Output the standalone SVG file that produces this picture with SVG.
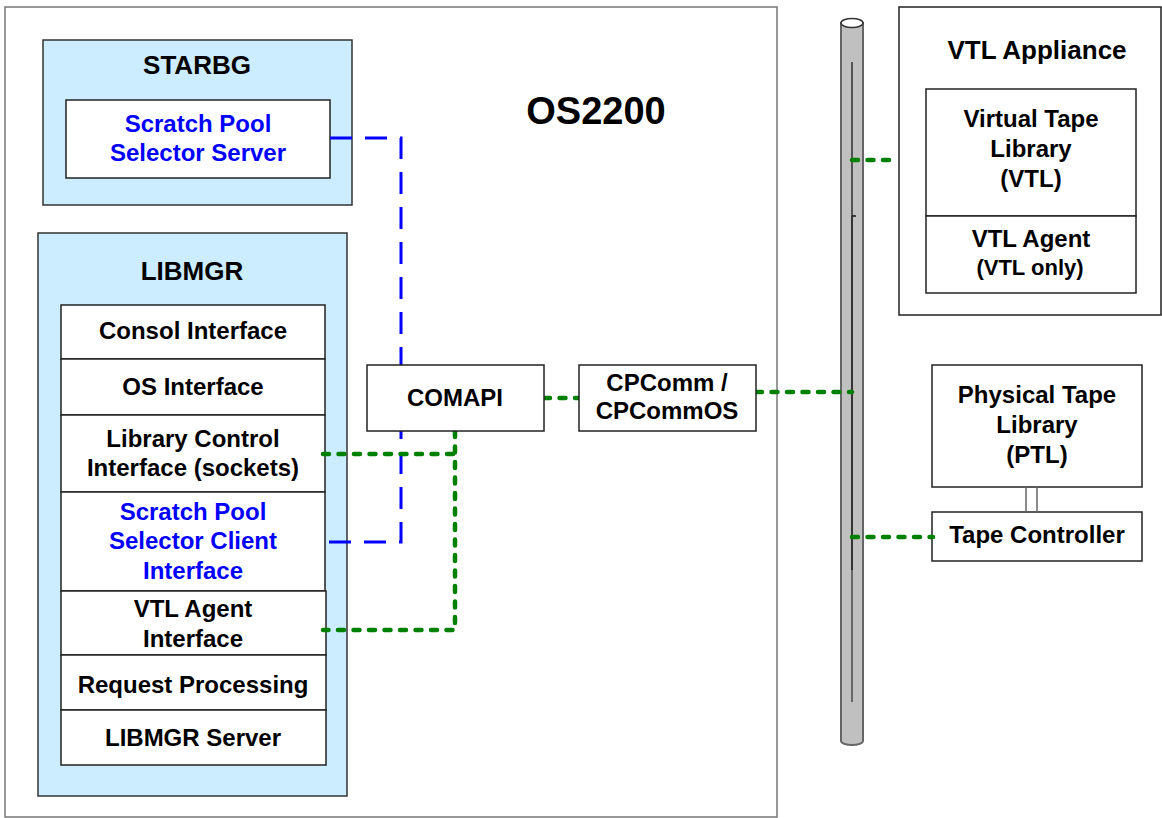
<svg xmlns="http://www.w3.org/2000/svg" width="1162" height="818" viewBox="0 0 1162 818">
<style>
text{font-family:"Liberation Sans",Arial,sans-serif;font-weight:bold;text-anchor:middle;fill:#000}
.b{font-size:24px}
.t{font-size:26px}
.s{font-size:22px}
.blue{fill:#0000FF}
.box{fill:#fff;stroke:#222;stroke-width:1.5}
.grp{fill:#CCECFF;stroke:#333;stroke-width:1.5}
.green{fill:none;stroke:#008000;stroke-width:4.5;stroke-linecap:round;stroke-dasharray:6 9.5}
.bluel{fill:none;stroke:#0000FF;stroke-width:3;stroke-dasharray:22 13}
</style>
<rect width="1162" height="818" fill="#fff"/>
<g id="os2200">
<rect x="5" y="7" width="772" height="810" fill="#fff" stroke="#777" stroke-width="1.5"/>
<text x="596" y="124" style="font-size:38px">OS2200</text>
</g>
<g id="starbg">
<rect class="grp" x="43" y="40" width="309" height="165"/>
<text class="t" x="197" y="74">STARBG</text>
</g>
<g id="sps-server">
<rect class="box" x="66" y="100" width="264" height="78"/>
<text class="b blue" x="198" y="132">Scratch Pool</text>
<text class="b blue" x="198" y="161">Selector Server</text>
</g>
<g id="libmgr">
<rect class="grp" x="38" y="233" width="309" height="563"/>
<text class="t" x="192" y="280">LIBMGR</text>
</g>
<g id="consol">
<rect class="box" x="61" y="305" width="264" height="54"/>
<text class="b" x="193" y="339">Consol Interface</text>
</g>
<g id="os-if">
<rect class="box" x="61" y="359" width="264" height="56"/>
<text class="b" x="193" y="395">OS Interface</text>
</g>
<g id="libctl">
<rect class="box" x="61" y="415" width="264" height="77"/>
<text class="b" x="193" y="447">Library Control</text>
<text class="b" x="193" y="476">Interface (sockets)</text>
</g>
<g id="sps-client">
<rect class="box" x="61" y="492" width="264" height="99"/>
<text class="b blue" x="193" y="520">Scratch Pool</text>
<text class="b blue" x="193" y="549">Selector Client</text>
<text class="b blue" x="193" y="579">Interface</text>
</g>
<g id="vtlagent-if">
<rect class="box" x="61" y="591" width="265" height="64"/>
<text class="b" x="193" y="617">VTL Agent</text>
<text class="b" x="193" y="647">Interface</text>
</g>
<g id="reqproc">
<rect class="box" x="61" y="655" width="265" height="55"/>
<text class="b" x="193" y="693">Request Processing</text>
</g>
<g id="libmgr-server">
<rect class="box" x="61" y="710" width="265" height="55"/>
<text class="b" x="193" y="746">LIBMGR Server</text>
</g>
<g id="network">
<path d="M841,23 V741 A11,4 0 0 0 863,741 V23 Z" fill="#C0C0C0" stroke="#666" stroke-width="2"/>
<ellipse cx="852" cy="23" rx="11" ry="4.5" fill="#fff" stroke="#333" stroke-width="1.5"/>
<path d="M852,62 V216" stroke="#555" stroke-width="2"/>
<path d="M852,216 H856" stroke="#111" stroke-width="1.5"/>
<path d="M852,216 V570" stroke="#333" stroke-width="2"/>
<path d="M852,570 V702" stroke="#666" stroke-width="2"/>
</g>
<g id="vtl-appliance">
<rect x="899" y="7" width="262" height="308" fill="#fff" stroke="#222" stroke-width="1.5"/>
<text class="t" x="1037" y="59">VTL Appliance</text>
</g>
<g id="vtl">
<rect class="box" x="926" y="89" width="210" height="127"/>
<text class="b" x="1031" y="127">Virtual Tape</text>
<text class="b" x="1031" y="157">Library</text>
<text class="b" x="1031" y="187">(VTL)</text>
</g>
<g id="vtl-agent">
<rect class="box" x="926" y="216" width="210" height="77"/>
<text class="b" x="1031" y="247">VTL Agent</text>
<text class="s" x="1030" y="275">(VTL only)</text>
</g>
<g id="ptl">
<rect class="box" x="932" y="365" width="210" height="122"/>
<text class="b" x="1037" y="403">Physical Tape</text>
<text class="b" x="1037" y="433">Library</text>
<text class="b" x="1037" y="463">(PTL)</text>
</g>
<g id="tape-controller">
<rect class="box" x="932" y="512" width="210" height="49"/>
<text class="b" x="1037" y="543">Tape Controller</text>
</g>
<g id="connectors">
<path d="M1026,487 V512 M1037,487 V512" stroke="#666" stroke-width="1.5" fill="none"/>
<path class="bluel" d="M330,138 H401 V542 H323"/>
<path class="green" d="M544,398 H579"/>
<path class="green" d="M756,392 H852"/>
<path class="green" d="M852,160 H891"/>
<path class="green" d="M852,537 H933"/>
<path class="green" d="M323,454 H455"/>
<path class="green" d="M455,431 V630 H323"/>
</g>
<g id="comapi">
<rect class="box" x="367" y="365" width="177" height="66"/>
<text class="b" x="455" y="406">COMAPI</text>
</g>
<g id="cpcomm">
<rect class="box" x="579" y="365" width="177" height="66"/>
<text class="b" x="667" y="391">CPComm /</text>
<text class="b" x="667" y="419">CPCommOS</text>
</g>
</svg>
